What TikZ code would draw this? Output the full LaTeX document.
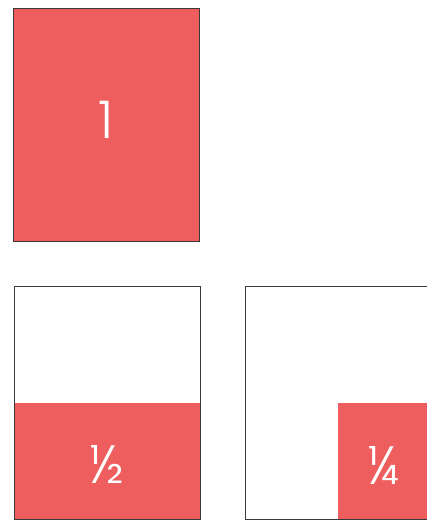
\documentclass[tikz,border=0pt]{standalone}
\usepackage{fontspec}
\setmainfont{Poppins}[UprightFont=* Light]
\definecolor{fracred}{HTML}{EF5E5F}
\definecolor{edge}{HTML}{3A3A3A}
\begin{document}
\begin{tikzpicture}[x=1pt,y=-1pt,
  frame/.style={draw=edge,line width=0.8pt},
  part/.style={fill=fracred},
  lab/.style={text=white,inner sep=0pt}]
\useasboundingbox (0,0) rectangle (427,521);
\clip (0,0) rectangle (427,521);
% whole
\fill[part] (13,8) rectangle (199,241);
\draw[frame] (13,8) rectangle (199,241);
\node[lab,font=\fontsize{52}{54}\selectfont] (one) at (106,120) {1};
% half
\fill[part] (14,403) rectangle (200,519);
\draw[frame] (14,286) rectangle (200,519);
\node[lab,font=\fontsize{54}{56}\selectfont] (half) at (107,465) {½};
% quarter
\fill[part] (338,403) rectangle (440,519);
\draw[frame] (245,286) rectangle (440,519);
\node[lab,font=\fontsize{54}{56}\selectfont] (quarter) at (384,465) {¼};
\end{tikzpicture}
\end{document}
